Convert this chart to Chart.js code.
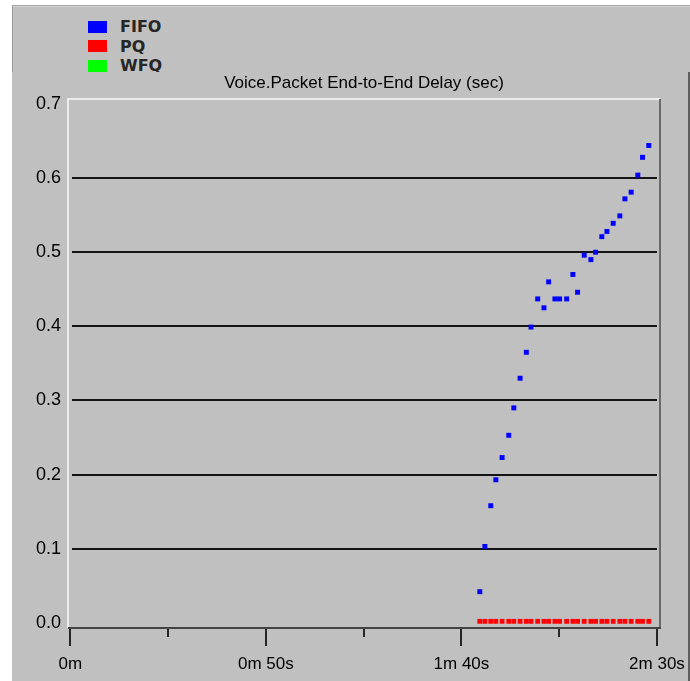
<!DOCTYPE html>
<html>
<head>
<meta charset="utf-8">
<script src="https://cdn.jsdelivr.net/npm/chart.js@4/dist/chart.umd.min.js"></script>
<style>
  html, body { margin: 0; padding: 0; background: #ffffff; width: 690px; height: 681px; overflow: hidden; }
  #legendPanel {
    position: absolute; left: 12px; top: 5px; width: 678px; height: 67px;
    background: #c0c0c0; box-sizing: border-box;
    border-top: 1px solid #a4a4a4; border-left: 1px solid #9c9c9c;
    box-shadow: inset 0 1px 0 #d6d6d6;
  }
  #chartPanel {
    position: absolute; left: 12px; top: 72px; width: 678px; height: 609px;
    background: #c0c0c0; box-sizing: border-box; border-right: 2px solid #5e5e5e;
  }
  #legend { position: absolute; left: 0; top: 0; }
  .legend-row {
    position: absolute; left: 75px; height: 19px; display: flex; align-items: center;
    font-family: "DejaVu Sans", sans-serif; font-weight: bold; font-size: 16px; color: #262626;
    white-space: nowrap;
  }
  .legend-swatch { width: 19px; height: 12px; margin-right: 13px; }
  #chart { position: absolute; left: 0; top: 0; }
</style>
</head>
<body>
<div id="legendPanel"><div id="legend"></div></div>
<div id="chartPanel"></div>
<canvas id="chart" width="690" height="681"></canvas>
<script>
// Simulation time of each voice delay sample (seconds)
const sampleTimes = [104.7, 106.0, 107.5, 108.8, 110.4, 112.1, 113.4, 115.0, 116.6, 117.8,
                     119.5, 121.1, 122.3, 123.9, 125.1, 126.9, 128.5, 129.7, 131.4, 133.1,
                     134.3, 135.9, 137.2, 138.8, 140.5, 141.8, 143.4, 145.1, 146.3, 147.9];

// End-to-end delay per queueing scheme (seconds)
const fifoDelay = [0.042, 0.103, 0.158, 0.193, 0.223, 0.253, 0.290, 0.330, 0.365, 0.399,
                   0.437, 0.425, 0.460, 0.437, 0.437, 0.437, 0.470, 0.446, 0.496, 0.490,
                   0.500, 0.521, 0.528, 0.539, 0.549, 0.572, 0.581, 0.604, 0.628, 0.644];
const pqDelay = [0.002, 0.002, 0.002, 0.002, 0.002, 0.002, 0.002, 0.002, 0.002, 0.002,
                 0.002, 0.002, 0.002, 0.002, 0.002, 0.002, 0.002, 0.002, 0.002, 0.002,
                 0.002, 0.002, 0.002, 0.002, 0.002, 0.002, 0.002, 0.002, 0.002, 0.002];
const wfqDelay = [];

const seriesNames = ['FIFO', 'PQ', 'WFQ'];
const seriesColors = ['#0000ff', '#ff0000', '#00ff00'];

// Axis ticks
const xTickValues = [0, 25, 50, 75, 100, 125, 150];
const xTickLabels = ['0m', '', '0m 50s', '', '1m 40s', '', '2m 30s'];
const yTickValues = [0, 0.1, 0.2, 0.3, 0.4, 0.5, 0.6, 0.7];
const yTickLabels = ['0.0', '0.1', '0.2', '0.3', '0.4', '0.5', '0.6', '0.7'];

const xTickFont = { family: '"Liberation Sans Narrow", "Liberation Sans", sans-serif', size: 17 };
const yTickFont = { family: '"Liberation Sans Narrow", "Liberation Sans", sans-serif', size: 18 };

function toPoints(values) {
  return values.map((v, i) => ({ x: sampleTimes[i], y: v }));
}

// Sunken plot frame, horizontal grid lines and the x-axis tick marks
const plotFrame = {
  id: 'plotFrame',
  beforeDatasetsDraw(chart) {
    const { ctx, chartArea: a, scales } = chart;
    ctx.save();
    ctx.strokeStyle = '#141414';
    ctx.lineWidth = 2;
    yTickValues.forEach(v => {
      if (v <= 0 || v >= 0.7) return;
      const y = Math.round(scales.y.getPixelForValue(v));
      ctx.beginPath();
      ctx.moveTo(a.left + 4, y);
      ctx.lineTo(a.right - 3, y);
      ctx.stroke();
    });
    // light top / left edges
    ctx.strokeStyle = '#ececec';
    ctx.lineWidth = 2;
    ctx.beginPath();
    ctx.moveTo(a.left, a.bottom);
    ctx.lineTo(a.left, a.top);
    ctx.lineTo(a.right, a.top);
    ctx.stroke();
    // dark right edge
    ctx.strokeStyle = '#6a6a6a';
    ctx.beginPath();
    ctx.moveTo(a.right, a.top);
    ctx.lineTo(a.right, a.bottom);
    ctx.stroke();
    // axis line
    ctx.strokeStyle = '#444444';
    ctx.beginPath();
    ctx.moveTo(a.left, a.bottom);
    ctx.lineTo(a.right + 1, a.bottom);
    ctx.stroke();
    // tick marks
    ctx.strokeStyle = '#262626';
    ctx.lineWidth = 2;
    xTickValues.forEach((v, i) => {
      const x = Math.round(scales.x.getPixelForValue(v));
      const len = xTickLabels[i] ? 17 : 8;
      ctx.beginPath();
      ctx.moveTo(x, a.bottom + 1);
      ctx.lineTo(x, a.bottom + 1 + len);
      ctx.stroke();
    });
    ctx.restore();
  }
};

const chart = new Chart(document.getElementById('chart'), {
  type: 'scatter',
  data: {
    datasets: [
      { label: seriesNames[2], data: toPoints(wfqDelay), backgroundColor: seriesColors[2],
        borderWidth: 0, pointStyle: 'rect', pointRadius: 3.3, order: 3 },
      { label: seriesNames[1], data: toPoints(pqDelay), backgroundColor: seriesColors[1],
        borderWidth: 0, pointStyle: 'rect', pointRadius: 3.4, order: 2 },
      { label: seriesNames[0], data: toPoints(fifoDelay), backgroundColor: seriesColors[0],
        borderWidth: 0, pointStyle: 'rect', pointRadius: 3.5, order: 1 }
    ]
  },
  options: {
    responsive: false,
    devicePixelRatio: 1,
    animation: false,
    events: [],
    layout: { padding: { left: 13, right: 30, top: 0, bottom: 0 } },
    plugins: {
      legend: { display: false },
      tooltip: { enabled: false },
      title: {
        display: true,
        fullSize: false,
        text: 'Voice.Packet End-to-End Delay (sec)',
        color: '#000000',
        font: { family: '"Liberation Sans", Arial, sans-serif', size: 17, weight: 'normal', lineHeight: 1.2 },
        padding: { top: 72.8, bottom: 5.8 }
      }
    },
    scales: {
      x: {
        type: 'linear',
        min: -0.59,
        max: 150.77,
        afterBuildTicks: s => { s.ticks = xTickValues.map(v => ({ value: v })); },
        afterFit: s => { s.height = 53; s.paddingLeft = 0; s.paddingRight = 0; },
        ticks: {
          callback: (v, i) => xTickLabels[i],
          autoSkip: false, maxRotation: 0, padding: 26,
          color: '#000000', font: xTickFont
        },
        grid: { display: false, drawTicks: false },
        border: { display: false }
      },
      y: {
        type: 'linear',
        min: -0.007,
        max: 0.7067,
        afterBuildTicks: s => { s.ticks = yTickValues.map(v => ({ value: v })); },
        afterFit: s => { s.width = 55; s.paddingTop = 0; s.paddingBottom = 0; },
        ticks: {
          callback: (v, i) => yTickLabels[i],
          padding: 7, color: '#000000', font: yTickFont
        },
        grid: { display: false, drawTicks: false },
        border: { display: false }
      }
    }
  },
  plugins: [plotFrame]
});

// Legend built from the chart's datasets, listed in series order
const legendBox = document.getElementById('legend');
seriesNames.forEach((name, i) => {
  const ds = chart.data.datasets.find(d => d.label === name);
  const row = document.createElement('div');
  row.className = 'legend-row';
  row.style.top = (11 + i * 19.5) + 'px';
  const sw = document.createElement('span');
  sw.className = 'legend-swatch';
  sw.style.background = ds.backgroundColor;
  const txt = document.createElement('span');
  txt.textContent = ds.label;
  row.appendChild(sw);
  row.appendChild(txt);
  legendBox.appendChild(row);
});
</script>
</body>
</html>
